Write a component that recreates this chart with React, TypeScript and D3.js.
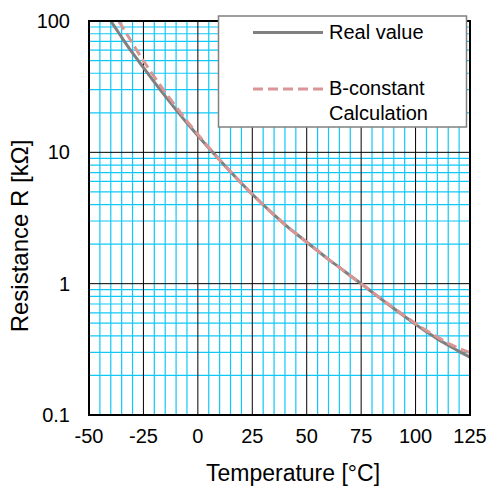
import React, { useEffect, useRef } from 'react';
import * as d3 from 'd3';

// temperature steps (°C)
const temps = [
  -40, -35, -30, -25, -20, -15, -10, -5, 0, 5, 10, 15, 20, 25, 30, 35, 40, 45,
  50, 55, 60, 65, 70, 75, 80, 85, 90, 95, 100, 105, 110, 115, 120, 125,
];

// measured resistance, kΩ
const realValue = [
  100, 75.2, 57.1, 44.2, 34.3, 26.8, 21.1, 16.7, 13.4, 10.8, 8.73, 7.11, 5.82,
  4.8, 3.99, 3.34, 2.82, 2.41, 2.07, 1.78, 1.53, 1.33, 1.15, 1.0, 0.863, 0.746,
  0.647, 0.562, 0.49, 0.43, 0.38, 0.34, 0.305, 0.275,
];

// B-constant calculation, kΩ
const bCalc = [
  125, 92, 67.5, 49.8, 37.6, 28.7, 22.2, 17.3, 13.7, 10.9, 8.75, 7.11, 5.82,
  4.8, 3.99, 3.34, 2.82, 2.41, 2.07, 1.78, 1.53, 1.33, 1.15, 1.0, 0.866, 0.75,
  0.652, 0.568, 0.497, 0.44, 0.392, 0.352, 0.322, 0.298,
];

const xTicks = [-50, -25, 0, 25, 50, 75, 100, 125];
const yTicks = [0.1, 1, 10, 100];
const yTickLabels = ['0.1', '1', '10', '100'];

const App = () => {
  const chartRef = useRef<SVGSVGElement>(null);

  useEffect(() => {
    const svg = d3.select(chartRef.current);
    svg.selectAll('*').remove();

    const font = 'Liberation Sans, Arial, sans-serif';
    const margin = { top: 21, right: 18, bottom: 71, left: 89 };
    const width = 488;
    const height = 486;

    const x = d3.scaleLinear()
      .domain([-50, 125])
      .range([margin.left, width - margin.right]);

    const y = d3.scaleLog()
      .domain([0.1, 100])
      .range([height - margin.bottom, margin.top]);

    // minor grid (cyan)
    const minorX = d3.range(-50, 126, 5).filter(v => v % 25 !== 0);
    const minorY: number[] = [];
    [0.1, 1, 10].forEach(d => {
      for (let k = 2; k <= 9; k++) minorY.push(d * k);
    });

    const grid = svg.append('g');
    grid.selectAll('.mx')
      .data(minorX)
      .join('line')
        .attr('x1', d => x(d)).attr('x2', d => x(d))
        .attr('y1', y(0.1)).attr('y2', y(100))
        .attr('stroke', '#10C8F8')
        .attr('stroke-width', 1.2);
    grid.selectAll('.my')
      .data(minorY)
      .join('line')
        .attr('x1', x(-50)).attr('x2', x(125))
        .attr('y1', d => y(d)).attr('y2', d => y(d))
        .attr('stroke', '#10C8F8')
        .attr('stroke-width', 1.2);

    // major grid (black)
    const major = svg.append('g');
    major.selectAll('.vx')
      .data(xTicks)
      .join('line')
        .attr('x1', d => x(d)).attr('x2', d => x(d))
        .attr('y1', y(0.1)).attr('y2', y(100))
        .attr('stroke', '#000')
        .attr('stroke-width', 1);
    major.selectAll('.hy')
      .data(yTicks)
      .join('line')
        .attr('x1', x(-50)).attr('x2', x(125))
        .attr('y1', d => y(d)).attr('y2', d => y(d))
        .attr('stroke', '#000')
        .attr('stroke-width', 1);

    svg.append('clipPath')
      .attr('id', 'plot-clip')
      .append('rect')
        .attr('x', x(-50)).attr('y', y(100))
        .attr('width', x(125) - x(-50))
        .attr('height', y(0.1) - y(100));

    const line = (vals: number[]) => d3.line<number>()
      .x((_, i) => x(temps[i]))
      .y(d => y(d))
      .curve(d3.curveMonotoneX)(vals);

    svg.append('path')
      .attr('d', line(realValue))
      .attr('fill', 'none')
      .attr('stroke', '#808080')
      .attr('stroke-width', 3)
      .attr('clip-path', 'url(#plot-clip)');

    svg.append('path')
      .attr('d', line(bCalc))
      .attr('fill', 'none')
      .attr('stroke', '#D99694')
      .attr('stroke-width', 3)
      .attr('stroke-dasharray', '10,5')
      .attr('clip-path', 'url(#plot-clip)');

    // plot border
    svg.append('rect')
      .attr('x', x(-50)).attr('y', y(100))
      .attr('width', x(125) - x(-50))
      .attr('height', y(0.1) - y(100))
      .attr('fill', 'none')
      .attr('stroke', '#000')
      .attr('stroke-width', 2);

    // tick labels
    svg.append('g')
      .selectAll('text')
      .data(xTicks)
      .join('text')
        .attr('x', d => x(d))
        .attr('y', 443)
        .attr('text-anchor', 'middle')
        .attr('font-family', font)
        .attr('font-size', 20)
        .text(d => d);

    svg.append('g')
      .selectAll('text')
      .data(yTicks)
      .join('text')
        .attr('x', 70)
        .attr('y', d => y(d) + 7)
        .attr('text-anchor', 'end')
        .attr('font-family', font)
        .attr('font-size', 20)
        .text((_, i) => yTickLabels[i]);

    // axis titles
    svg.append('text')
      .attr('x', 293)
      .attr('y', 481)
      .attr('text-anchor', 'middle')
      .attr('font-family', font)
      .attr('font-size', 23)
      .text('Temperature [°C]');

    svg.append('text')
      .attr('transform', 'translate(28,236) rotate(-90)')
      .attr('text-anchor', 'middle')
      .attr('font-family', font)
      .attr('font-size', 24)
      .text('Resistance R [kΩ]');

    // legend
    const lg = svg.append('g');
    lg.append('rect')
      .attr('x', 218.5).attr('y', 16)
      .attr('width', 248).attr('height', 111)
      .attr('fill', '#fff')
      .attr('stroke', '#808080')
      .attr('stroke-width', 1.5);
    lg.append('line')
      .attr('x1', 253).attr('x2', 323)
      .attr('y1', 32.5).attr('y2', 32.5)
      .attr('stroke', '#808080')
      .attr('stroke-width', 3);
    lg.append('line')
      .attr('x1', 253).attr('x2', 323)
      .attr('y1', 89).attr('y2', 89)
      .attr('stroke', '#D99694')
      .attr('stroke-width', 3)
      .attr('stroke-dasharray', '10,5');
    lg.append('text')
      .attr('x', 329).attr('y', 38.5)
      .attr('font-family', font).attr('font-size', 20)
      .text('Real value');
    lg.append('text')
      .attr('x', 329).attr('y', 94.5)
      .attr('font-family', font).attr('font-size', 20)
      .text('B-constant');
    lg.append('text')
      .attr('x', 329).attr('y', 120)
      .attr('font-family', font).attr('font-size', 20)
      .text('Calculation');
  }, []);

  return (
    <svg
      ref={chartRef}
      width="488"
      height="486"
      style={{ position: 'absolute', left: 0, top: 0, background: '#fff' }}
    ></svg>
  );
};

export default App;
